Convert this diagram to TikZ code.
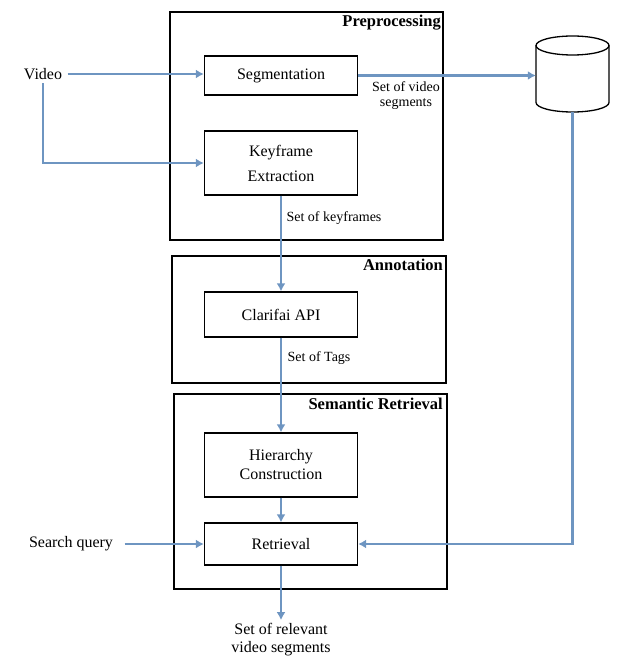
\documentclass[tikz,border=0pt]{standalone}
\usepackage{fontspec}
\setmainfont{Liberation Serif}
\usetikzlibrary{arrows.meta}
\definecolor{flow}{RGB}{110,149,193}
\tikzset{every node/.style={align=center}, >={Latex[length=8pt,width=9pt]}, font=\fontsize{16}{19}\selectfont}
\tikzset{block/.style={draw, line width=1.3pt, minimum width=153pt, inner sep=0pt},
         group/.style={draw, line width=1.3pt, inner sep=0pt},
         head/.style={font=\fontsize{16.5}{19}\selectfont\bfseries, anchor=north east, inner sep=0pt},
         small/.style={font=\fontsize{14}{16}\selectfont},
         link/.style={draw=flow, line width=2.2pt, ->}}

\begin{document}
\begin{tikzpicture}[x=1pt,y=-1pt]
            \useasboundingbox (0,0) rectangle (618,666);
            % stages
            \node [group, minimum width=273pt, minimum height=228pt] (pre) at (306.5,126) {};
            \node [group, minimum width=274pt, minimum height=127pt] (ann) at (309,319.5) {};
            \node [group, minimum width=273pt, minimum height=195pt] (sem) at (310.5,491.5) {};
            \node [head] at (441,15) {Preprocessing};
            \node [head] at (443,259) {Annotation};
            \node [head] at (443,398) {Semantic Retrieval};
            % steps
            \node [block, minimum height=39pt] (seg) at (281,75.5) {Segmentation};
            \node [block, minimum height=64pt] (key) at (281,163) {\raisebox{-3pt}{\shortstack{Keyframe\\[8pt]Extraction}}};
            \node [block, minimum height=45pt] (clar) at (281,314.5) {Clarifai API};
            \node [block, minimum height=64pt] (hier) at (281,465) {Hierarchy\\Construction};
            \node [block, minimum height=42pt] (ret) at (281,544) {Retrieval};
            % store
            \node [minimum width=73pt, minimum height=76pt, inner sep=0pt] (db) at (572.5,74) {};
            \draw [line width=1.3pt] (572.5,45.5) ellipse [x radius=36.5, y radius=9.5];
            \draw [line width=1.3pt] (536,45.5) -- (536,102.5) arc [start angle=180, end angle=0, x radius=36.5, y radius=9.5] -- (609,45.5);
            % inputs and outputs
            \node (vid) at (43,74) {Video};
            \node (qry) at (71,544) {Search query};
            \node (out) at (281,640) {Set of relevant\\[-1pt]video segments};
            \node [small] at (406,96) {Set of video\\[-1pt]segments};
            \node [small] at (334,218) {Set of keyframes};
            \node [small] at (319,358) {Set of Tags};

            \path (vid) edge [link, shorten <=2pt] (seg.west |- vid.east)
                (seg.east) edge [link] (seg.east -| db.west)
                (key) edge [link] (clar)
                (clar) edge [link] (hier)
                (hier) edge [link] (ret)
                (qry) edge [link, shorten <=8pt] (ret)
                (ret) edge [link] (out);
            \draw [link] (vid.south) |- (key.west);
            \draw [link] (db.south) |- (ret.east);

        \end{tikzpicture}
\end{document}
